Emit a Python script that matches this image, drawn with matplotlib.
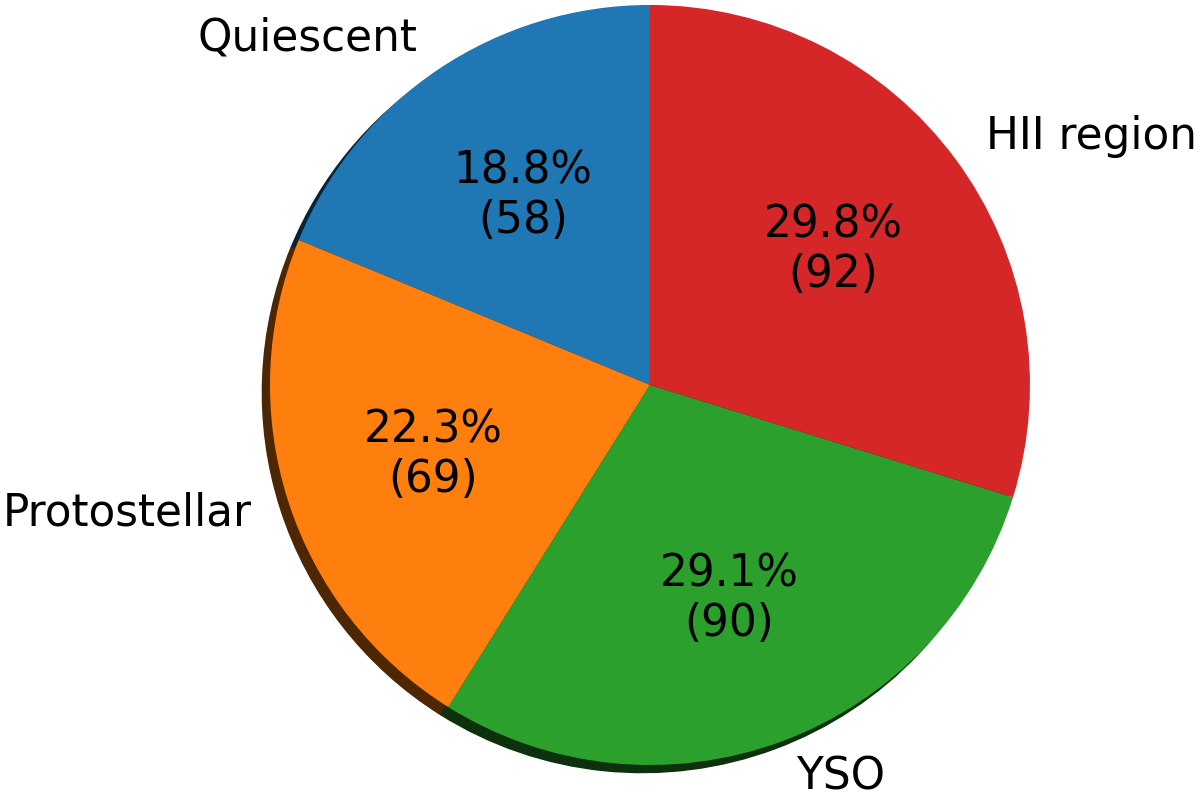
import matplotlib
matplotlib.use("Agg")
import matplotlib.pyplot as plt

# source counts per evolutionary class
classes = ['Quiescent', 'Protostellar', 'YSO', 'HII region']
counts = [58, 69, 90, 92]
colors = ['tab:blue', 'tab:orange', 'tab:green', 'tab:red']

total = sum(counts)


def fmt(pct):
    n = int(round(pct * total / 100.0))
    return f'{pct:.1f}%\n({n})'


fig = plt.figure(figsize=(12, 7.94), dpi=100)
ax = fig.add_axes([0.1458, -0.0831, 0.7917, 1.1965])

# opaque dark shadow like the old matplotlib look
ax.pie(counts, labels=classes, colors=colors, autopct=fmt, startangle=90,
       shadow={'ox': -0.0144, 'oy': -0.0144, 'alpha': 1.0},
       textprops={'fontsize': 31.5})
ax.set_xlim(-1.25, 1.25)
ax.set_ylim(-1.25, 1.25)
ax.set_aspect('equal')

fig.savefig('out.png', dpi=100)
